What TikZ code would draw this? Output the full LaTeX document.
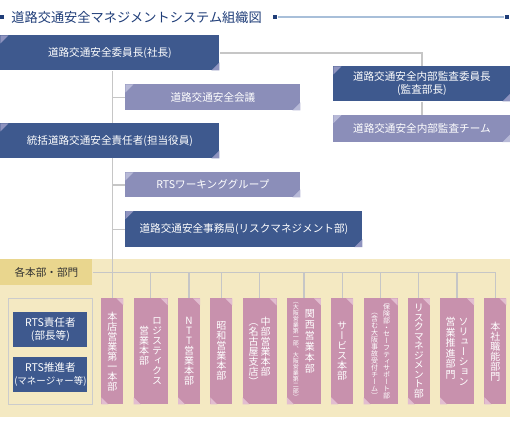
\documentclass[tikz,border=0pt]{standalone}
\usepackage{fontspec}
\setmainfont{Noto Sans CJK JP}
\newfontfamily\vjp[RawFeature=+vert]{Noto Sans CJK JP}
\usetikzlibrary{positioning,backgrounds}

\definecolor{navy}{HTML}{1F3D78}
\definecolor{titlerule}{HTML}{A8BFD9}
\definecolor{headblue}{HTML}{3E598E}
\definecolor{headtri}{HTML}{8E93BF}
\definecolor{subblue}{HTML}{8B8EB9}
\definecolor{subtri}{HTML}{B7B9D7}
\definecolor{deptpink}{HTML}{C891AD}
\definecolor{depttri}{HTML}{E2BDD0}
\definecolor{panel}{HTML}{F4E9C2}
\definecolor{labelgold}{HTML}{E9D68E}
\definecolor{linegray}{HTML}{C6C6C6}

% one column of vertical text
\makeatletter
\newcommand\vcol[2][1]{\vtop{\baselineskip=#1em\lineskiplimit=-\maxdimen\lineskip=0pt
  \@tfor\vc:=#2\do{\hbox to 1em{\hss\vc\hss}}}}
\makeatother

\begin{document}
\begin{tikzpicture}[x=1pt,y=-1pt,thick,font=\fontsize{10.6}{13}\selectfont,
  connector/.style={draw=linegray,line width=1.3pt}]
\useasboundingbox (0,0) rectangle (510,430);

% Define block styles
\tikzstyle{head} = [rectangle, fill=headblue, text=white, anchor=north west, inner sep=0pt,
    path picture={\fill[headtri] (path picture bounding box.north west) -- ++(8pt,0pt) -- ++(-8pt,-8pt) -- cycle;
      \fill[headtri] (path picture bounding box.south east) -- ++(-8pt,0pt) -- ++(8pt,8pt) -- cycle;}]
\tikzstyle{sub} = [rectangle, fill=subblue, text=white, anchor=north west, inner sep=0pt,
    path picture={\fill[subtri] (path picture bounding box.north west) -- ++(8pt,0pt) -- ++(-8pt,-8pt) -- cycle;
      \fill[subtri] (path picture bounding box.south east) -- ++(-8pt,0pt) -- ++(8pt,8pt) -- cycle;}]
\tikzstyle{dept} = [rectangle, fill=deptpink, text=white, anchor=north west, inner sep=0pt,
    minimum height=106pt, font=\vjp\fontsize{10}{10}\selectfont,
    path picture={\fill[depttri] (path picture bounding box.north east) -- ++(-7pt,0pt) -- ++(7pt,-7pt) -- cycle;
      \fill[depttri] (path picture bounding box.south west) -- ++(7pt,0pt) -- ++(-7pt,7pt) -- cycle;}]
\tikzstyle{rts} = [rectangle, fill=headblue, text=white, inner sep=0pt, align=center,
    minimum width=74pt, minimum height=35pt]
\tikzstyle{titledot} = [rectangle, fill=navy, inner sep=0pt, minimum size=4.5pt]

% title
\node[titledot] (dotl) at (2,17) {};
\node[anchor=west, text=navy, inner sep=0pt, font=\fontsize{13.2}{15}\selectfont]
    (title) at (11,18) {道路交通安全マネジメントシステム組織図};
\node[titledot] (dotm) at (275,17) {};
\node[titledot] (dotr) at (507,17) {};

% committee
\node[head, minimum width=219pt, minimum height=35pt] (chair) at (0,35) {道路交通安全委員長(社長)};
\node[sub, minimum width=175pt, minimum height=26pt] (council) at (125,84) {道路交通安全会議};
\node[head, minimum width=219pt, minimum height=35pt] (duty) at (0,123) {統括道路交通安全責任者(担当役員)};
\node[sub, minimum width=175pt, minimum height=25pt] (wg) at (125,172) {RTSワーキンググループ};
\node[head, minimum width=237pt, minimum height=36pt, below=13pt of wg.south west, anchor=north west]
    (office) {道路交通安全事務局(リスクマネジメント部)};
\node[head, minimum width=177pt, minimum height=35pt, align=center] (auditchair) at (333,66)
    {道路交通安全内部監査委員長\\(監査部長)};
\node[sub, minimum width=177pt, minimum height=27pt, below=13pt of auditchair] (auditteam) {道路交通安全内部監査チーム};

% departments
\begin{scope}[on background layer]
\fill[panel] (0,259) rectangle (510,417);
\end{scope}
\node[fill=labelgold, anchor=north west, minimum width=92pt, minimum height=26pt, inner sep=0pt,
    text=black!80] (label) at (0,259) {各本部・部門};
\node[draw=black!20, line width=1pt, fill=panel, anchor=north west, minimum width=84pt,
    minimum height=106pt] (frame) at (8,298) {};
\node[rts, anchor=north west] (rtsa) at (13,312) {RTS責任者\\(部長等)};
\node[rts, below=9pt of rtsa] (rtsb) {RTS推進者\\{\fontsize{9.5}{13}\selectfont(マネージャー等)}};

\node[dept, minimum width=22pt] (p1) at (101,298) {\vcol{本店営業第一本部}};
\node[dept, minimum width=34pt, right=9.5pt of p1] (p2) {\vcol{　営業本部}\hspace{3pt}\vcol{ロジスティクス}};
\node[dept, minimum width=22pt, right=9.5pt of p2] (p3) {\vcol{NTT営業本部}};
\node[dept, minimum width=22pt, right=9.5pt of p3] (p4) {\vcol{昭和営業本部}};
\node[dept, minimum width=34pt, right=9.5pt of p4] (p5) {\vcol{（名古屋支店）}\hspace{2pt}\vcol{中部営業本部}};
\node[dept, minimum width=34pt, right=9.5pt of p5] (p6)
    {{\fontsize{6}{6}\selectfont\vcol{（大阪営業第一部、大阪営業第二部）}}\hspace{6pt}\raisebox{-14pt}{\vcol[1.1]{関西営業本部}}};
\node[dept, minimum width=22pt, right=9.5pt of p6] (p7) {\vcol{サービス本部}};
\node[dept, minimum width=34pt, right=9.5pt of p7] (p8)
    {\fontsize{7}{7}\selectfont\raisebox{-5pt}{\vcol{（含む大阪事故受付チーム）}}\hspace{5pt}\vcol[0.97]{保険部・セーフティサポート部}};
\node[dept, minimum width=22pt, right=9.5pt of p8] (p9) {\vcol[0.95]{リスクマネジメント部}};
\node[dept, minimum width=34pt, right=9.5pt of p9] (p10) {\vcol[1.05]{営業推進部門}\hspace{3pt}\vcol{ソリューション}};
\node[dept, minimum width=22pt, right=9.5pt of p10] (p11) {\vcol{本社職能部門}};

% connectors
\begin{scope}[on background layer]
\draw[titlerule, line width=1.5pt] (dotm) -- (dotr);
\draw[connector] (chair.east) -| (auditchair.north);
\draw[connector] (auditchair.south) -- (auditteam.north);
\draw[connector] (p1.north) -- (p1.north |- chair.south);
\draw[connector] (council.west) -- (council.west -| p1.north)
    (wg.west) -- (wg.west -| p1.north)
    (office.west) -- (office.west -| p1.north);
\draw[connector] (label.east) -- (label.east -| p11.north);
\draw[connector] (p2.north) -- (p2.north |- label.east)
    (p3.north) -- (p3.north |- label.east)
    (p4.north) -- (p4.north |- label.east)
    (p5.north) -- (p5.north |- label.east)
    (p6.north) -- (p6.north |- label.east)
    (p7.north) -- (p7.north |- label.east)
    (p8.north) -- (p8.north |- label.east)
    (p9.north) -- (p9.north |- label.east)
    (p10.north) -- (p10.north |- label.east)
    (p11.north) -- (p11.north |- label.east);
\end{scope}
\end{tikzpicture}
\end{document}
